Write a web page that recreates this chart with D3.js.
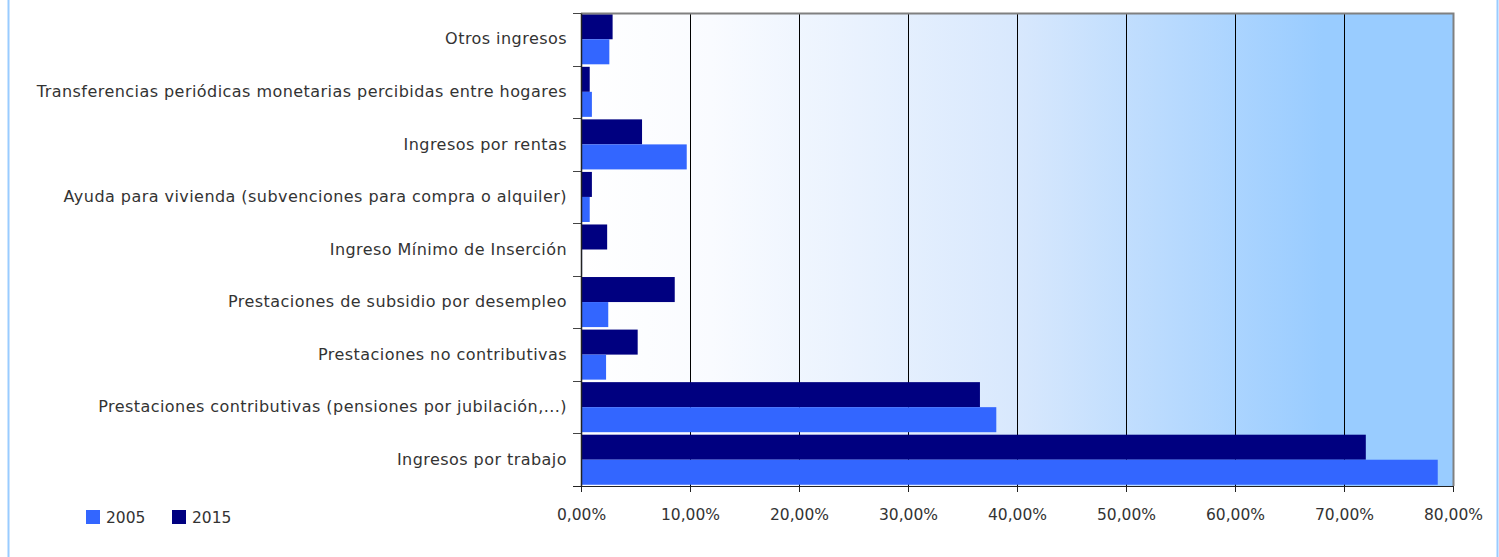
<!DOCTYPE html>
<html>
<head>
<meta charset="utf-8">
<script src="https://cdn.jsdelivr.net/npm/d3@7"></script>
<style>
  body { margin: 0; background: #fff; }
  svg text { font-family: "DejaVu Sans", sans-serif; fill: #333; }
</style>
</head>
<body>
<div id="chart"></div>
<script>
// categories, top to bottom
var categories = [
    "Otros ingresos",
    "Transferencias periódicas monetarias percibidas entre hogares",
    "Ingresos por rentas",
    "Ayuda para vivienda (subvenciones para compra o alquiler)",
    "Ingreso Mínimo de Inserción",
    "Prestaciones de subsidio por desempleo",
    "Prestaciones no contributivas",
    "Prestaciones contributivas (pensiones por jubilación,...)",
    "Ingresos por trabajo"
];
var series = ["2005", "2015"];
var values2005 = [2.6, 1.0, 9.7, 0.8, 0.1, 2.5, 2.3, 38.1, 78.6];
var values2015 = [2.9, 0.8, 5.6, 1.0, 2.4, 8.6, 5.2, 36.6, 72.0];
var xTicks = [0, 10, 20, 30, 40, 50, 60, 70, 80];

var colors = { "2005": "#3366ff", "2015": "#000080" };

var W = 1499, H = 557;
var margin = { top: 13, right: 46, bottom: 71, left: 581 };

var svg = d3.select("#chart").append("svg")
    .attr("width", W)
    .attr("height", H);

// outer frame lines of the container
svg.append("line").attr("x1", 8.5).attr("x2", 8.5).attr("y1", 0).attr("y2", H)
    .style("stroke", "#99ccff").style("stroke-width", 2);
svg.append("line").attr("x1", 1497.5).attr("x2", 1497.5).attr("y1", 0).attr("y2", H)
    .style("stroke", "#99ccff").style("stroke-width", 2);

var x = d3.scaleLinear().domain([0, 80]).range([margin.left, W - margin.right]);
var y = d3.scaleBand().domain(categories).range([margin.top, H - margin.bottom]);
var ySub = d3.scaleBand().domain(["2015", "2005"]).range([0, y.bandwidth()]).paddingOuter(0.05);

// background gradient
var defs = svg.append("defs");
var grad = defs.append("linearGradient").attr("id", "bg")
    .attr("x1", "0%").attr("x2", "100%").attr("y1", "0%").attr("y2", "0%");
grad.append("stop").attr("offset", "0%").attr("stop-color", "#ffffff");
grad.append("stop").attr("offset", "15%").attr("stop-color", "#f9fbff");
grad.append("stop").attr("offset", "50%").attr("stop-color", "#d8e8fd");
grad.append("stop").attr("offset", "85%").attr("stop-color", "#99ccff");
grad.append("stop").attr("offset", "100%").attr("stop-color", "#99ccff");

svg.append("rect")
    .attr("x", x(0)).attr("y", margin.top)
    .attr("width", x(80) - x(0)).attr("height", H - margin.bottom - margin.top)
    .style("fill", "url(#bg)");

// grid lines
svg.append("g").selectAll("line")
    .data(xTicks.slice(1, -1))
    .enter().append("line")
    .attr("x1", function (d) { return Math.round(x(d)) + 0.5; })
    .attr("x2", function (d) { return Math.round(x(d)) + 0.5; })
    .attr("y1", margin.top)
    .attr("y2", H - margin.bottom)
    .style("stroke", "#000").style("stroke-width", 1);

// bars
var rows = svg.append("g").selectAll("g")
    .data(categories)
    .enter().append("g")
    .attr("transform", function (d) { return "translate(0," + y(d) + ")"; });

rows.selectAll("rect")
    .data(function (d, i) {
        return [
            { year: "2015", value: values2015[i] },
            { year: "2005", value: values2005[i] }
        ];
    })
    .enter().append("rect")
    .attr("x", x(0))
    .attr("y", function (d) { return ySub(d.year); })
    .attr("width", function (d) { return x(d.value) - x(0); })
    .attr("height", ySub.bandwidth())
    .style("fill", function (d) { return colors[d.year]; });

// plot border top / right
svg.append("path")
    .attr("d", "M" + x(0) + "," + (margin.top + 0.5) + "H" + (x(80) + 0.5) + "V" + (H - margin.bottom))
    .style("fill", "none").style("stroke", "#808080").style("stroke-width", 2);

// x axis
var xAxis = d3.axisBottom(x)
    .tickValues(xTicks)
    .tickSize(6)
    .tickFormat(function (d) { return d3.format(".2f")(d).replace(".", ",") + "%"; });

var gx = svg.append("g")
    .attr("transform", "translate(0," + (H - margin.bottom) + ")")
    .call(xAxis);
gx.select(".domain").style("stroke", "#222").attr("d", "M" + (x(0) - 8) + ",0.5H" + (x(80) + 0.5));
gx.selectAll(".tick line").style("stroke", "#222");
gx.selectAll("text")
    .attr("y", 23)
    .attr("dy", "0.71em")
    .style("font-size", "15.5px")
    .style("font-family", "DejaVu Sans, sans-serif")
    .style("fill", "#333");

// y axis
var yAxis = d3.axisLeft(y).tickSize(0).tickPadding(14);
var gy = svg.append("g")
    .attr("transform", "translate(" + x(0) + ",0)")
    .call(yAxis);
gy.select(".domain").style("stroke", "#222").style("stroke-width", 1.5);
gy.selectAll("text")
    .style("font-size", "16px")
    .style("letter-spacing", "0.45px")
    .style("font-family", "DejaVu Sans, sans-serif")
    .style("fill", "#333");

// category separators on the y axis
svg.append("g").selectAll("line")
    .data(categories)
    .enter().append("line")
    .attr("x1", x(0) - 8).attr("x2", x(0))
    .attr("y1", function (d) { return Math.round(y(d)) + 0.5; })
    .attr("y2", function (d) { return Math.round(y(d)) + 0.5; })
    .style("stroke", "#444");

// legend
var legend = svg.append("g").selectAll("g")
    .data(series)
    .enter().append("g")
    .attr("transform", function (d, i) { return "translate(" + (86 + i * 86) + ",510)"; });
legend.append("rect")
    .attr("width", 14).attr("height", 14)
    .style("fill", function (d) { return colors[d]; });
legend.append("text")
    .attr("x", 20).attr("y", 8).attr("dy", "0.35em")
    .style("font-size", "15.5px")
    .text(function (d) { return d; });
</script>
</body>
</html>
